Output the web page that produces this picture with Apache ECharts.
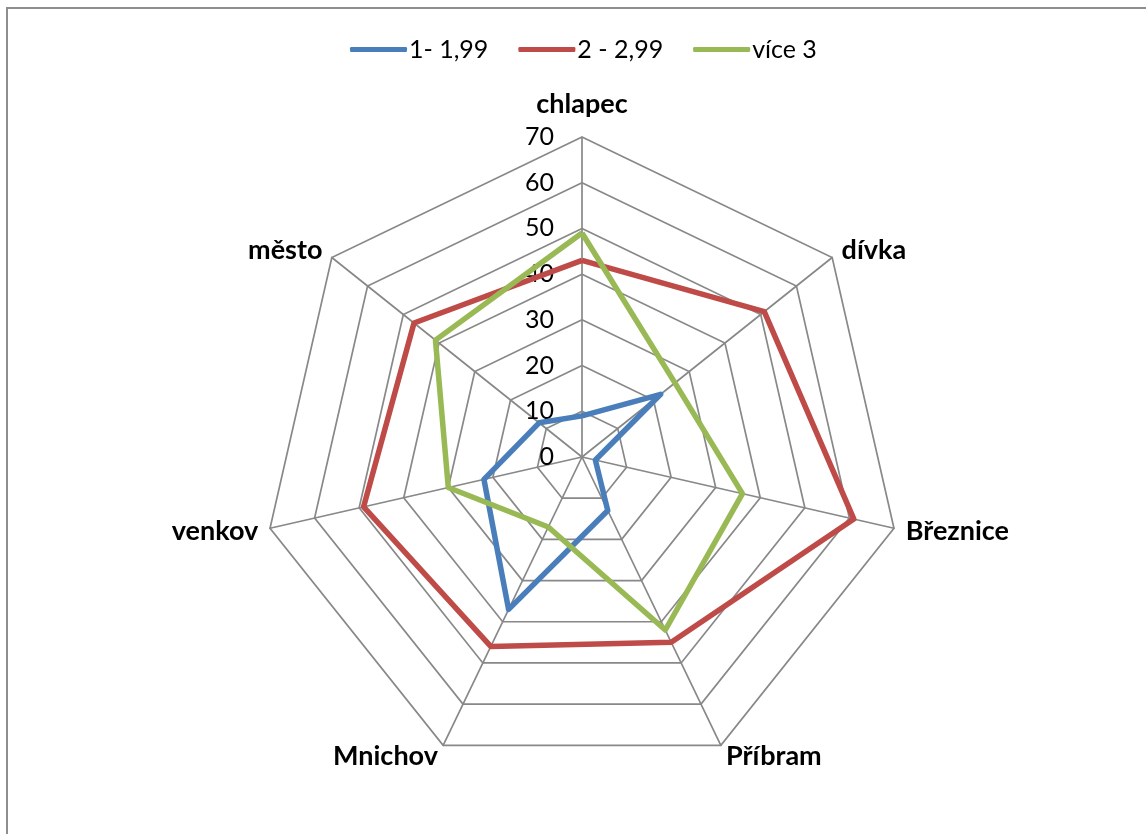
<!DOCTYPE html>
<html>
<head>
<meta charset="utf-8">
<script src="https://cdn.jsdelivr.net/npm/echarts@6/dist/echarts.min.js"></script>
<style>
  html, body { margin: 0; padding: 0; background: #ffffff; }
  #chart { width: 1146px; height: 834px; }
</style>
</head>
<body>
<div id="chart"></div>
<script>
// Categories, listed clockwise from the top
const categories = ['chlapec', 'dívka', 'Březnice', 'Příbram', 'Mnichov', 'venkov', 'město'];
const seriesNames = ['1- 1,99', '2 - 2,99', 'více 3'];
const values1 = [9, 22, 3, 13, 37, 22, 12];
const values2 = [43, 51, 61, 45, 46, 49, 47];
const values3 = [49, 26, 36, 42, 17, 30, 41];
const axisMax = 70;
const tickStep = 10;

const colors = ['#4A7EBB', '#BE4B48', '#98B954'];
const FONT = 'Lato, "Open Sans", sans-serif';

// ECharts lays radar indicators out counter-clockwise, so walk the
// categories backwards after the first to keep them clockwise.
const order = [0].concat(categories.slice(1).map((_, i) => categories.length - 1 - i));
const reorder = arr => order.map(i => arr[i]);

const indicator = reorder(categories).map((name, i) => {
  const ind = { name: name, min: 0, max: axisMax };
  if (i === 0) {
    ind.axisLabel = {
      show: true, color: '#000', fontFamily: FONT, fontSize: 25,
      margin: 28, showMinLabel: true, showMaxLabel: true
    };
  }
  return ind;
});

const nameStyle = { color: '#000', fontFamily: FONT, fontSize: 27, fontWeight: 'bold' };

const chart = echarts.init(document.getElementById('chart'), null, { renderer: 'canvas' });
chart.setOption({
  animation: false,
  backgroundColor: '#ffffff',
  color: colors,
  graphic: [{
    type: 'rect',
    shape: { x: 7, y: 8, width: 1300, height: 1000 },
    style: { fill: 'none', stroke: '#8e8e8e', lineWidth: 2 },
    silent: true, z: -10
  }],
  legend: {
    top: 37, left: 350, padding: 0,
    itemWidth: 57, itemHeight: 5, itemGap: 30,
    icon: 'roundRect',
    textStyle: { color: '#000', fontFamily: FONT, fontSize: 25, padding: [0, 0, 0, -3] },
    data: seriesNames
  },
  radar: {
    center: [582, 457],
    radius: 320,
    startAngle: 90,
    shape: 'polygon',
    splitNumber: axisMax / tickStep,
    indicator: indicator,
    axisName: Object.assign({}, nameStyle, {
      // the top category name sits a little higher above its spoke
      formatter: (name) => name === categories[0] ? '{top|' + name + '}' : name,
      rich: { top: Object.assign({}, nameStyle, { padding: [0, 0, 7, 0] }) }
    }),
    nameGap: 12,
    axisLine: { show: true, lineStyle: { color: '#888888', width: 1.7 } },
    axisTick: { show: false },
    axisLabel: { show: false },
    splitLine: { show: true, lineStyle: { color: '#888888', width: 1.7 } },
    splitArea: { show: false }
  },
  series: [{
    type: 'radar',
    symbol: 'none',
    lineStyle: { width: 5 },
    data: [values1, values2, values3].map((v, i) => ({
      name: seriesNames[i],
      value: reorder(v),
      lineStyle: { color: colors[i], width: 5.5, join: 'round' },
      itemStyle: { color: colors[i] }
    }))
  }]
});
</script>
</body>
</html>
